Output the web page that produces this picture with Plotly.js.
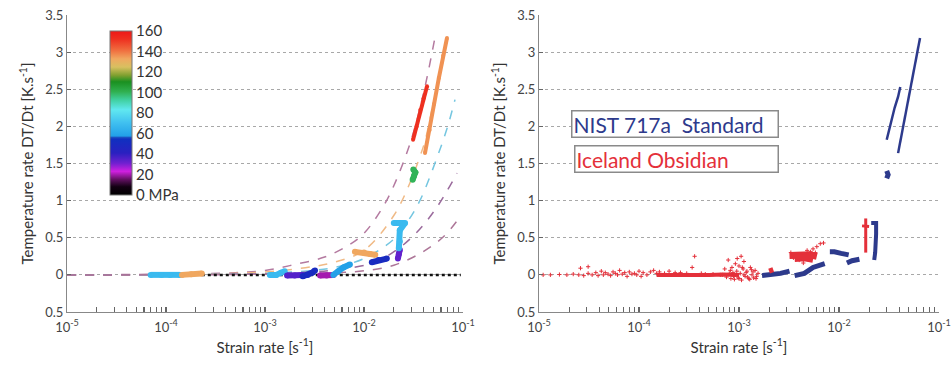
<!DOCTYPE html>
<html>
<head>
<meta charset="utf-8">
<script src="https://cdn.plot.ly/plotly-3.0.1.min.js"></script>
<style>html,body{margin:0;padding:0;background:#fff;}#chart{width:951px;height:365px;}</style>
</head>
<body>
<div id="chart"></div>
<script>
// ---------- tick labels ----------
const xTickVals = [1e-5, 1e-4, 1e-3, 1e-2, 1e-1];
const xTickText = ['10<sup>-5</sup>', '10<sup>-4</sup>', '10<sup>-3</sup>', '10<sup>-2</sup>', '10<sup>-1</sup>'];
const yTickVals = [-0.5, 0, 0.5, 1, 1.5, 2, 2.5, 3, 3.5];
const yTickText = ['0.5', '0', '0.5', '1', '1.5', '2', '2.5', '3', '3.5'];
const cbTickVals = [0, 20, 40, 60, 80, 100, 120, 140, 160];
const cbTickText = ['0 MPa', '20', '40', '60', '80', '100', '120', '140', '160'];

// ---------- left panel: dashed fit curves ----------
const fitA_x = [1e-5, 1e-4, 5e-4, 1e-3, 2e-3, 4e-3, 7e-3, 1e-2, 1.5e-2, 2e-2, 3e-2, 4e-2, 5.2e-2];
const fitA_y = [0, 0.01, 0.03, 0.06, 0.14, 0.24, 0.40, 0.56, 0.88, 1.2, 1.82, 2.45, 3.19];
const fitB_x = [1e-5, 1e-4, 1e-3, 3e-3, 5e-3, 1e-2, 2e-2, 3e-2, 3.66e-2, 4.13e-2, 5e-2, 6e-2, 6.9e-2];
const fitB_y = [0, 0.005, 0.04, 0.11, 0.17, 0.33, 0.8, 1.28, 1.59, 1.8, 2.3, 2.75, 3.19];
const fitC_x = [1e-5, 1e-4, 1e-3, 3e-3, 5e-3, 1e-2, 2e-2, 2.7e-2, 3.7e-2, 5.5e-2, 7e-2, 8.3e-2];
const fitC_y = [0, 0.003, 0.02, 0.06, 0.1, 0.22, 0.48, 0.7, 1.01, 1.59, 2.0, 2.36];
const fitD_x = [1e-5, 1e-4, 1e-3, 3e-3, 6e-3, 1.23e-2, 2.15e-2, 3.4e-2, 5.5e-2, 8.7e-2];
const fitD_y = [0, 0.002, 0.015, 0.04, 0.08, 0.16, 0.34, 0.57, 0.92, 1.37];
const fitE_x = [1e-5, 1e-4, 1e-3, 5e-3, 1e-2, 2e-2, 3.7e-2, 6.3e-2, 9.3e-2];
const fitE_y = [0, 0.001, 0.01, 0.03, 0.055, 0.13, 0.29, 0.51, 0.78];

// ---------- left panel: measured data by pressure (MPa) ----------
const zeroP_x = [2.3e-4, 5e-4, 1e-3, 2e-3, 5e-3, 1e-2, 2e-2, 5e-2, 9.5e-2];
const zeroP_y = [0, 0, 0, 0, 0, 0, 0, 0, 0];
const blobPressure = [68, 133, 68, 35, 50, 20, 58, 133, 50, 33, 68, 100, 152, 136];
const blobX = [
  [7e-5, 9e-5, 1.1e-4, 1.38e-4],
  [1.45e-4, 1.8e-4, 2.3e-4],
  [1.12e-3, 1.3e-3, 1.45e-3, 1.58e-3],
  [1.67e-3, 2e-3, 2.4e-3],
  [2.4e-3, 2.7e-3, 3.0e-3, 3.2e-3],
  [3.6e-3, 4.2e-3, 4.9e-3],
  [4.9e-3, 5.5e-3, 6.2e-3, 7.2e-3],
  [8.1e-3, 1e-2, 1.15e-2, 1.3e-2],
  [1.2e-2, 1.4e-2, 1.7e-2],
  [2.2e-2, 2.25e-2, 2.3e-2],
  [2.0e-2, 2.3e-2, 2.6e-2, 2.3e-2, 2.3e-2, 2.25e-2],
  [3.1e-2, 3.2e-2, 3.3e-2, 3.15e-2],
  [0.0313, 0.034, 0.037, 0.040, 0.0433],
  [0.0413, 0.046, 0.051, 0.057, 0.063, 0.0689]
];
const blobY = [
  [0, 0, 0, 0],
  [0.0, 0.01, 0.02],
  [0.0, 0.0, 0.03, 0.05],
  [-0.01, -0.01, 0.0],
  [-0.02, 0.0, 0.03, 0.06],
  [-0.01, -0.01, 0.0],
  [0.0, 0.05, 0.1, 0.14],
  [0.31, 0.30, 0.28, 0.27],
  [0.17, 0.2, 0.22],
  [0.22, 0.28, 0.34],
  [0.7, 0.7, 0.7, 0.6, 0.45, 0.36],
  [1.28, 1.33, 1.38, 1.42],
  [1.82, 2.0, 2.22, 2.38, 2.54],
  [1.64, 1.95, 2.3, 2.65, 2.95, 3.19]
];

// ---------- right panel: NIST 717a Standard ----------
const nistX = [
  [0.030, 0.033, 0.036, 0.039, 0.041],
  [0.039, 0.044, 0.05, 0.056, 0.0646],
  [0.030, 0.031, 0.030],
  [8.1e-3, 9e-3, 1.05e-2, 1.25e-2],
  [1.2e-2, 1.35e-2, 1.6e-2],
  [2.1e-2, 2.35e-2, 2.35e-2, 2.33e-2, 2.3e-2, 2.25e-2],
  [1.7e-3, 2.1e-3, 2.6e-3, 3.2e-3],
  [3.6e-3, 4.5e-3, 5.5e-3, 7.2e-3]
];
const nistY = [
  [1.82, 2.05, 2.25, 2.4, 2.53],
  [1.64, 2.0, 2.4, 2.75, 3.19],
  [1.3, 1.35, 1.4],
  [0.31, 0.31, 0.29, 0.27],
  [0.16, 0.19, 0.21],
  [0.7, 0.7, 0.55, 0.4, 0.3, 0.2],
  [-0.01, 0.0, 0.02, 0.05],
  [-0.01, 0.02, 0.1, 0.15]
];

// ---------- right panel: Iceland Obsidian ----------
const obsBandX = [1.5e-4, 3e-4, 5e-4, 7e-4, 1e-3];
const obsBandY = [0.0, -0.005, 0, 0.005, 0];
const obsX = [1.1e-5,1.3e-5,1.6e-5,1.9e-5,2.2e-5,2.5e-5,2.6e-5,2.8e-5,3.1e-5,3.1e-5,3.4e-5,3.7e-5,3.9e-5,4.2e-5,4.4e-5,4.6e-5,4.9e-5,5.2e-5,5.5e-5,5.8e-5,6.1e-5,6.4e-5,6.8e-5,7.2e-5,7.6e-5,8.0e-5,8.5e-5,9.0e-5,9.5e-5,1.0e-4,1.05e-4,1.1e-4,1.2e-4,1.3e-4,1.4e-4,1.5e-4,
  1.6e-4,1.8e-4,2.0e-4,2.3e-4,2.6e-4,3.0e-4,3.4e-4,3.6e-4,4.2e-4,4.6e-4,5.5e-4,6.5e-4,
  6.8e-4,7.2e-4,7.5e-4,7.8e-4,8.0e-4,8.3e-4,8.5e-4,8.7e-4,9.0e-4,9.2e-4,9.5e-4,9.8e-4,1.0e-3,1.03e-3,1.06e-3,1.1e-3,1.12e-3,1.15e-3,1.2e-3,1.25e-3,1.3e-3,1.35e-3,1.4e-3,1.45e-3,1.5e-3,1.55e-3,8.2e-4,9.3e-4,1.05e-3,1.18e-3,1.28e-3,1.38e-3,9.6e-4,1.08e-3,1.22e-3,8.8e-4,1.0e-3,1.12e-3,1.33e-3,1.48e-3,
  5.5e-3,6e-3,6.5e-3,7e-3,4.8e-3,5.2e-3,3.3e-3,4e-3,4.4e-3,3.5e-3,5.8e-3];
const obsY = [0,0,0.005,0,0.01,0,0.09,-0.01,0.11,0.02,0,0.03,-0.01,0.05,0.0,0.03,0.01,-0.01,0.04,0.02,0.0,0.06,0.01,0.03,-0.02,0.04,0.01,0.02,0.0,0.05,-0.02,0.03,0.0,0.04,0.06,0.02,
  0.04,0.02,0.05,0.03,0.03,0.02,0.1,0.25,0.02,0.01,0.01,0.0,
  0.0,0.08,-0.03,0.2,0.02,-0.05,0.1,0.03,-0.06,0.15,0.05,-0.04,0.12,0.02,-0.07,0.08,0.18,-0.02,0.05,-0.05,0.1,0.0,-0.04,0.06,-0.02,0.02,0.06,0.0,0.25,0.03,-0.06,0.04,0.22,0.1,-0.03,-0.02,-0.05,0.0,0.07,-0.05,
  0.35,0.38,0.42,0.43,0.33,0.31,0.3,0.2,0.16,0.23,0.3];
const obsStrokeX = [
  [3.2e-3, 3.8e-3, 4.5e-3, 5.2e-3, 6e-3],
  [3.6e-3, 4.5e-3, 5.5e-3],
  [2.0e-3, 2.2e-3],
  [1.85e-2, 1.86e-2, 1.84e-2, 1.86e-2, 1.85e-2],
  [1.7e-2, 2.0e-2]
];
const obsStrokeY = [
  [0.26, 0.27, 0.28, 0.27, 0.25],
  [0.22, 0.23, 0.21],
  [0.05, 0.07],
  [0.76, 0.6, 0.5, 0.4, 0.3],
  [0.66, 0.65]
];

// ---------- styling ----------
const FONT = 'Lato, "Open Sans", sans-serif';
const BLUE = '#2d3a8c';
const RED = '#e4303a';
const colorStops = [
  [0.0, '#000000'], [0.05, '#120012'], [0.094, '#601060'], [0.144, '#d020e0'],
  [0.194, '#7020d0'], [0.256, '#2a20c0'], [0.34, '#1030c0'], [0.35, '#1a4ac0'],
  [0.36, '#22a0e8'], [0.44, '#40c0f0'], [0.52, '#60e8f0'], [0.58, '#40d0a0'],
  [0.63, '#30b050'], [0.69, '#1a9020'], [0.73, '#80a030'], [0.78, '#d8c060'],
  [0.83, '#f0a860'], [0.88, '#f07040'], [0.95, '#ee3020'], [1.0, '#ee1818']
];
function hexToRgb(h){return [1,3,5].map(i=>parseInt(h.substr(i,2),16));}
function colorAt(p){
  const t = Math.max(0, Math.min(1, p/160));
  for (let i=1;i<colorStops.length;i++){
    if (t <= colorStops[i][0]){
      const [t0,c0] = colorStops[i-1], [t1,c1] = colorStops[i];
      const f = (t - t0)/(t1 - t0 || 1);
      const a = hexToRgb(c0), b = hexToRgb(c1);
      return 'rgb(' + a.map((v,k)=>Math.round(v + (b[k]-v)*f)).join(',') + ')';
    }
  }
  return colorStops[colorStops.length-1][1];
}

const traces = [];
const fits = [
  [fitA_x, fitA_y, '#b47aa0'], [fitB_x, fitB_y, '#f0ba86'], [fitC_x, fitC_y, '#74c6e0'],
  [fitD_x, fitD_y, '#9a6a9c'], [fitE_x, fitE_y, '#ad7698']
];
fits.forEach(f => traces.push({x:f[0], y:f[1], xaxis:'x', yaxis:'y', mode:'lines', type:'scatter',
  line:{color:f[2], width:1.5, dash:'dash', shape:'spline'}, hoverinfo:'skip', showlegend:false}));

traces.push({x:zeroP_x, y:zeroP_y, xaxis:'x', yaxis:'y', mode:'lines', type:'scatter',
  line:{color:'#111', width:2.5, dash:'dot'}, showlegend:false});

blobX.forEach((xs, i) => {
  const p = blobPressure[i];
  traces.push({x:xs, y:blobY[i], xaxis:'x', yaxis:'y', mode:'lines+markers', type:'scatter',
    line:{color:colorAt(p), width:(i>=12?4:6)},
    marker:{color:xs.map(()=>p), coloraxis:'coloraxis', size:(i>=12?4:6)}, showlegend:false});
});

// right panel
nistX.forEach((xs, i) => traces.push({x:xs, y:nistY[i], xaxis:'x2', yaxis:'y2', mode:'lines', type:'scatter',
  line:{color:BLUE, width:(i<2?2.5:(i===5?4:5))}, showlegend:false}));
traces.push({x:obsBandX, y:obsBandY, xaxis:'x2', yaxis:'y2', mode:'lines', type:'scatter',
  line:{color:RED, width:4}, showlegend:false});
obsStrokeX.forEach((xs, i) => traces.push({x:xs, y:obsStrokeY[i], xaxis:'x2', yaxis:'y2', mode:'lines', type:'scatter',
  line:{color:RED, width:(i<2?7:(i===2?5:3))}, showlegend:false}));
traces.push({x:obsX, y:obsY, xaxis:'x2', yaxis:'y2', mode:'markers', type:'scatter',
  marker:{color:RED, size:3, symbol:'cross-thin', line:{color:RED, width:1}}, showlegend:false});

// x-axis tick positions: decades labelled, 2..9 multiples unlabelled (axis configuration)
const allXTickVals = [], allXTickText = [];
for (let e=-5; e<=-1; e++) {
  allXTickVals.push(Math.pow(10,e)); allXTickText.push(xTickText[e+5]);
  if (e < -1) for (let m=2; m<=9; m++) { allXTickVals.push(m*Math.pow(10,e)); allXTickText.push(''); }
}

function xAxis(domain, anchor){
  return {domain:domain, anchor:anchor, type:'log', range:[-5,-1], tickmode:'array',
    tickvals:allXTickVals, ticktext:allXTickText, ticks:'inside', ticklen:5, tickcolor:'#666', tickwidth:1.1,
    showline:true, linecolor:'#888', linewidth:1, showgrid:false, zeroline:false,
    ticklabelstandoff:3,
    tickfont:{family:FONT, size:13, color:'#444'},
    title:{text:'Strain rate [s<sup>-1</sup>]', font:{family:FONT, size:15, color:'#333'}, standoff:8}};
}
function yAxis(domain, anchor){
  return {domain:domain, anchor:anchor, range:[-0.5,3.5], tickmode:'array',
    tickvals:yTickVals, ticktext:yTickText, ticks:'inside', ticklen:4, tickcolor:'#666',
    showline:true, linecolor:'#888', linewidth:1, showgrid:true, gridcolor:'#a8a8a8',
    griddash:'dot', gridwidth:1, zeroline:false,
    tickfont:{family:FONT, size:13, color:'#444'},
    title:{text:'Temperature rate DT/Dt [K.s<sup>-1</sup>]', font:{family:FONT, size:15, color:'#333'}, standoff:7}};
}

const W = 951, H = 365;
const ydom = [(H-312)/H, (H-15)/H];
const layout = {
  width:W, height:H, margin:{l:0, r:0, t:0, b:0}, paper_bgcolor:'#fff', plot_bgcolor:'#fff',
  showlegend:false,
  xaxis: xAxis([67/W, 463/W], 'y'),
  yaxis: yAxis(ydom, 'x'),
  xaxis2: xAxis([539/W, 939/W], 'y2'),
  yaxis2: yAxis(ydom, 'x2'),
  coloraxis:{cmin:0, cmax:160, colorscale:colorStops, showscale:true,
    colorbar:{x:110/W, xanchor:'left', xref:'paper', y:(H-113)/H, yanchor:'middle',
      thickness:22, len:164, lenmode:'pixels', xpad:0, ypad:0,
      outlinewidth:1, outlinecolor:'#777', tickmode:'array', tickvals:cbTickVals, ticktext:cbTickText,
      ticks:'', ticklabelstandoff:4, tickfont:{family:FONT, size:15, color:'#333'}}},
  annotations:[
    {xref:'paper', yref:'paper', x:674.5/W, y:(H-123.5)/H, xanchor:'center', yanchor:'middle',
     text:'NIST 717a\u00a0 Standard', showarrow:false, align:'left', width:203, height:23,
     bordercolor:'#8a8a8a', borderwidth:1.5, borderpad:1, bgcolor:'#fff',
     font:{family:FONT, size:21, color:BLUE}},
    {xref:'paper', yref:'paper', x:676/W, y:(H-158.5)/H, xanchor:'center', yanchor:'middle',
     text:'Iceland Obsidian', showarrow:false, align:'left', width:200, height:23,
     bordercolor:'#8a8a8a', borderwidth:1.5, borderpad:1, bgcolor:'#fff',
     font:{family:FONT, size:21, color:RED}}
  ]
};

Plotly.newPlot('chart', traces, layout, {staticPlot:true, displayModeBar:false});
</script>
</body>
</html>
